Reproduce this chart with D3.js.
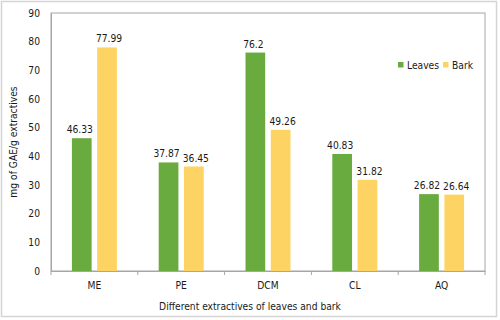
<!DOCTYPE html>
<html><head><meta charset="utf-8">
<script src="https://cdn.jsdelivr.net/npm/d3@7"></script>
<style>body{margin:0;background:#fff}svg{display:block}text{font-family:"DejaVu Sans Condensed",sans-serif;fill:#1a1a1a}</style>
</head><body><svg id="c" width="500" height="320"></svg>
<script>
const categories = ["ME","PE","DCM","CL","AQ"];
const seriesNames = ["Leaves","Bark"];
const leaves = [46.33,37.87,76.2,40.83,26.82];
const bark = [77.99,36.45,49.26,31.82,26.64];
const yTicks = [0,10,20,30,40,50,60,70,80,90];
const colors = ["#6aab3f","#fdd464"];
const FONT = "DejaVu Sans Condensed";
const FS = 10.2;

const svg = d3.select("#c");
svg.append("rect").attr("x",1.5).attr("y",1.5).attr("width",495).attr("height",315)
  .attr("fill","none").attr("stroke","#d4d4d4").attr("stroke-width",1.5);
const L=51,R=485,T=13,B=271;
const x = d3.scaleBand().domain(categories).range([L,R]);
const x1 = d3.scaleBand().domain(seriesNames).range([0,45]).paddingInner(0.22);
const y = d3.scaleLinear().domain([0,90]).range([B,T]);

svg.append("rect").attr("x",L).attr("y",T).attr("width",R-L).attr("height",B-T)
  .attr("fill","none").attr("stroke","#a6a6a6").attr("stroke-width",1);

const data = categories.map((c,i)=>({c, vals:[leaves[i],bark[i]]}));
const g = svg.append("g").selectAll("g").data(data).join("g")
  .attr("transform",d=>`translate(${x(d.c)+x.bandwidth()/2-22.5},0)`);
g.selectAll("rect").data(d=>d.vals.map((v,j)=>({v,s:seriesNames[j],j}))).join("rect")
  .attr("x",d=>x1(d.s)).attr("width",x1.bandwidth())
  .attr("y",d=>y(d.v)).attr("height",d=>B-y(d.v)).attr("fill",d=>colors[d.j]);
g.selectAll("text").data(d=>d.vals.map((v,j)=>({v,s:seriesNames[j],j}))).join("text")
  .attr("x",d=>x1(d.s)+x1.bandwidth()/2 + (d.j===0?-2:2)).attr("y",d=>y(d.v)-5)
  .attr("text-anchor","middle").attr("font-size",FS).text(d=>d.v);

// y axis
const ya = svg.append("g").attr("transform",`translate(${L},0)`)
  .call(d3.axisLeft(y).tickValues(yTicks).tickSize(0).tickPadding(11));
ya.select(".domain").attr("stroke","#a6a6a6");
ya.selectAll("text").attr("font-size",FS).attr("font-family",FONT).attr("fill","#1a1a1a");
// x axis
const xa = svg.append("g").attr("transform",`translate(0,${B})`)
  .call(d3.axisBottom(x).tickSize(0).tickPadding(11));
xa.select(".domain").attr("stroke","#a6a6a6");
xa.selectAll("text").attr("font-size",FS).attr("font-family",FONT).attr("fill","#1a1a1a");
svg.append("g").selectAll("line").data(categories.map(c=>x(c)).concat([R])).join("line")
  .attr("x1",d=>d).attr("x2",d=>d).attr("y1",B).attr("y2",B+4).attr("stroke","#a6a6a6");

svg.append("text").attr("transform","translate(17,142) rotate(-90)").attr("text-anchor","middle")
  .attr("font-size",FS).text("mg of GAE/g extractives");
svg.append("text").attr("x",250).attr("y",310).attr("text-anchor","middle")
  .attr("font-size",FS).text("Different extractives of leaves and bark");

// legend
const lg = svg.append("g");
const lx=[398,443];
seriesNames.forEach((s,i)=>{
  lg.append("rect").attr("x",lx[i]).attr("y",62).attr("width",5.5).attr("height",5.5).attr("fill",colors[i]);
  lg.append("text").attr("x",lx[i]+9).attr("y",69).attr("font-size",FS).text(s);
});
</script></body></html>
